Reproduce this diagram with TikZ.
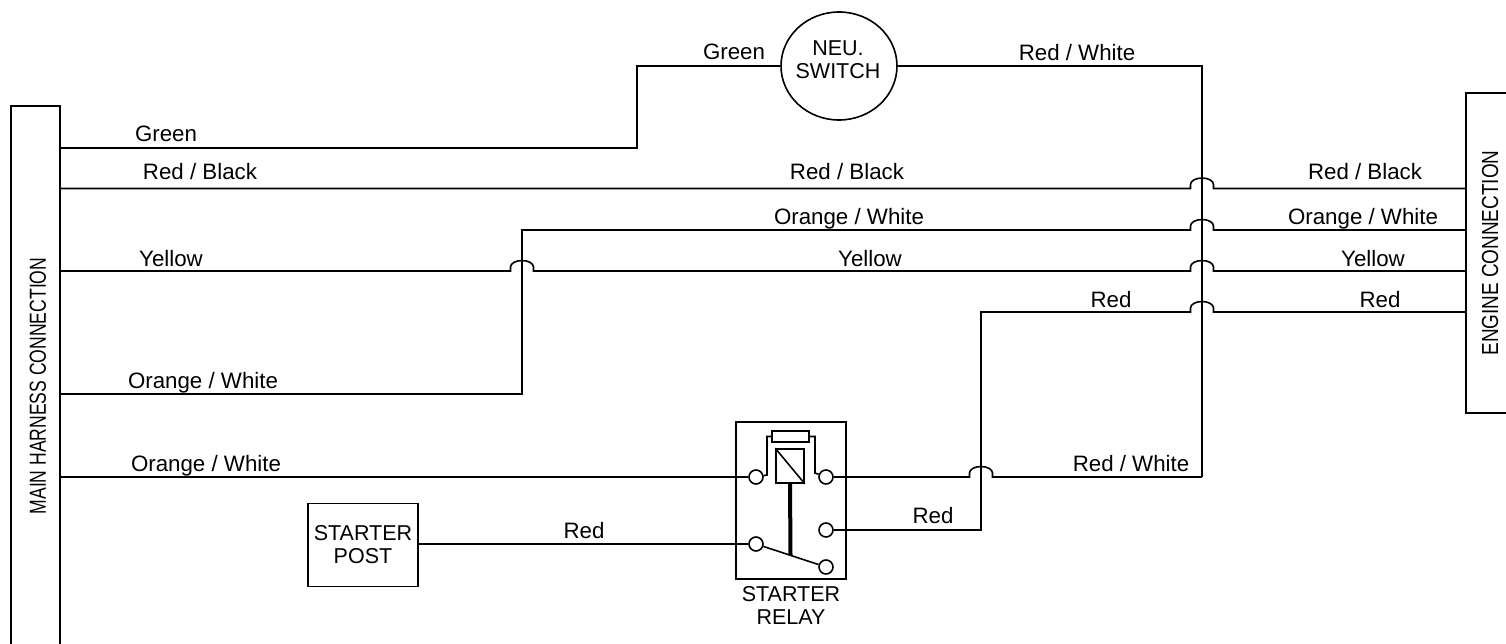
\documentclass[tikz,border=0pt]{standalone}
\usepackage{fontspec}
\setmainfont{Liberation Sans}
\usetikzlibrary{shapes.geometric}
\newcommand{\hop}{-- ++(0,-4) arc[start angle=180,end angle=360,x radius=11.5,y radius=6.5] -- ++(0,4)}

\begin{document}
\begin{tikzpicture}[x=1pt,y=-1pt,line width=1.6pt,
   wirelabel/.style={font=\fontsize{22.3}{23}\selectfont},
   termin/.style={circle,draw,minimum size=14pt,inner sep=0pt},
   block/.style={draw,inner sep=0pt,align=center,font=\fontsize{21.5}{23}\selectfont}]
   \useasboundingbox (0,0) rectangle (1506,644);

   \draw (11,644) -- (11,106) -- (60,106) -- (60,644);
   \draw (1506,93) -- (1466,93) -- (1466,413) -- (1506,413);
   \node[block,draw=none,rotate=90] (main) at (38,386) {\scalebox{.817}[1.08]{MAIN HARNESS CONNECTION}};
   \node[block,draw=none,rotate=90] (engine) at (1490,253) {\scalebox{.88}[1.08]{ENGINE CONNECTION}};

   \node[block,ellipse,minimum width=116pt,minimum height=108pt] (neu) at (839,66) {};
   \node[block,draw=none] (neutext) at (838,60) {NEU.\\SWITCH};
   \node[block,minimum width=110pt,minimum height=83pt] (post) at (363,545) {STARTER\\POST};
   \node[block,minimum width=110pt,minimum height=157pt] (relay) at (791,500.5) {};
   \node[block,draw=none] (relaytext) at (791,605) {STARTER\\RELAY};

   \node[block,minimum width=28pt,minimum height=34pt] (coil) at (790,466) {};
   \node[block,minimum width=37pt,minimum height=11pt] (fuse) at (790.5,436.5) {};
   \node[termin] (ta) at (756,477) {};
   \node[termin] (tb) at (826,477) {};
   \node[termin] (tc) at (756,544) {};
   \node[termin] (td) at (826,530) {};
   \node[termin] (te) at (826,567) {};

   \coordinate (sw) at (790.5,555.5);
   \coordinate (fl) at (767,436.5);
   \coordinate (fla) at (767,475);
   \coordinate (fr) at (815,436.5);
   \coordinate (fra) at (815,473);
   \draw (coil.north west) -- (coil.south east);
   \draw[line width=4pt] (coil.south) -- (sw);
   \draw (tc) -- (te);
   \draw (fuse.west) -- (fl) -- (fla) -- (ta);
   \draw (fuse.east) -- (fr) -- (fra) -- (tb);

   \coordinate (mgreen) at (60,148);
   \coordinate (mblack) at (60,188.5);
   \coordinate (myellow) at (60,271);
   \coordinate (morange) at (60,394);
   \coordinate (mrelay) at (60,477);
   \coordinate (eblack) at (1466,188.5);
   \coordinate (eorange) at (1466,230);
   \coordinate (eyellow) at (1466,271);
   \coordinate (ered) at (1466,312);

   \coordinate (bgreen) at (637,66);
   \coordinate (bwhite) at (1202,66);
   \coordinate (bwhiteb) at (1202,477);
   \coordinate (borange) at (522,230);
   \coordinate (bred) at (981,312);
   \coordinate (bredb) at (981,530);

   \coordinate (hblack) at (1190.5,188.5);
   \coordinate (horange) at (1190.5,230);
   \coordinate (hyellowa) at (510.5,271);
   \coordinate (hyellowb) at (1190.5,271);
   \coordinate (hred) at (1190.5,312);
   \coordinate (hwhite) at (969.5,477);

   \draw (mgreen) -| (bgreen) -- (neu);
   \draw (neu) -- (bwhite) -- (bwhiteb);
   \draw (tb) -- (hwhite) \hop -- (bwhiteb);
   \draw (mblack) -- (hblack) \hop -- (eblack);
   \draw (morange) -| (borange) -- (horange) \hop -- (eorange);
   \draw (myellow) -- (hyellowa) \hop -- (hyellowb) \hop -- (eyellow);
   \draw (td) -- (bredb) -- (bred) -- (hred) \hop -- (ered);
   \draw (mrelay) -- (ta);
   \draw (post.east |- tc) -- (tc);

   \node[wirelabel] (la) at (166,134) {Green};
   \node[wirelabel] (lb) at (200,172) {Red / Black};
   \node[wirelabel] (lc) at (171,259) {Yellow};
   \node[wirelabel] (ld) at (203,383) {Orange / White};
   \node[wirelabel] (le) at (206,466) {Orange / White};
   \node[wirelabel] (lf) at (734,52) {Green};
   \node[wirelabel] (lg) at (1077,53) {Red / White};
   \node[wirelabel] (lh) at (847,172) {Red / Black};
   \node[wirelabel] (li) at (1365,172) {Red / Black};
   \node[wirelabel] (lj) at (849,219) {Orange / White};
   \node[wirelabel] (lk) at (1363,219) {Orange / White};
   \node[wirelabel] (ll) at (870,259) {Yellow};
   \node[wirelabel] (lm) at (1373,259) {Yellow};
   \node[wirelabel] (ln) at (1111,300) {Red};
   \node[wirelabel] (lo) at (1380,300) {Red};
   \node[wirelabel] (lp) at (1131,464) {Red / White};
   \node[wirelabel] (lq) at (933,516) {Red};
   \node[wirelabel] (lr) at (584,531) {Red};
\end{tikzpicture}
\end{document}
